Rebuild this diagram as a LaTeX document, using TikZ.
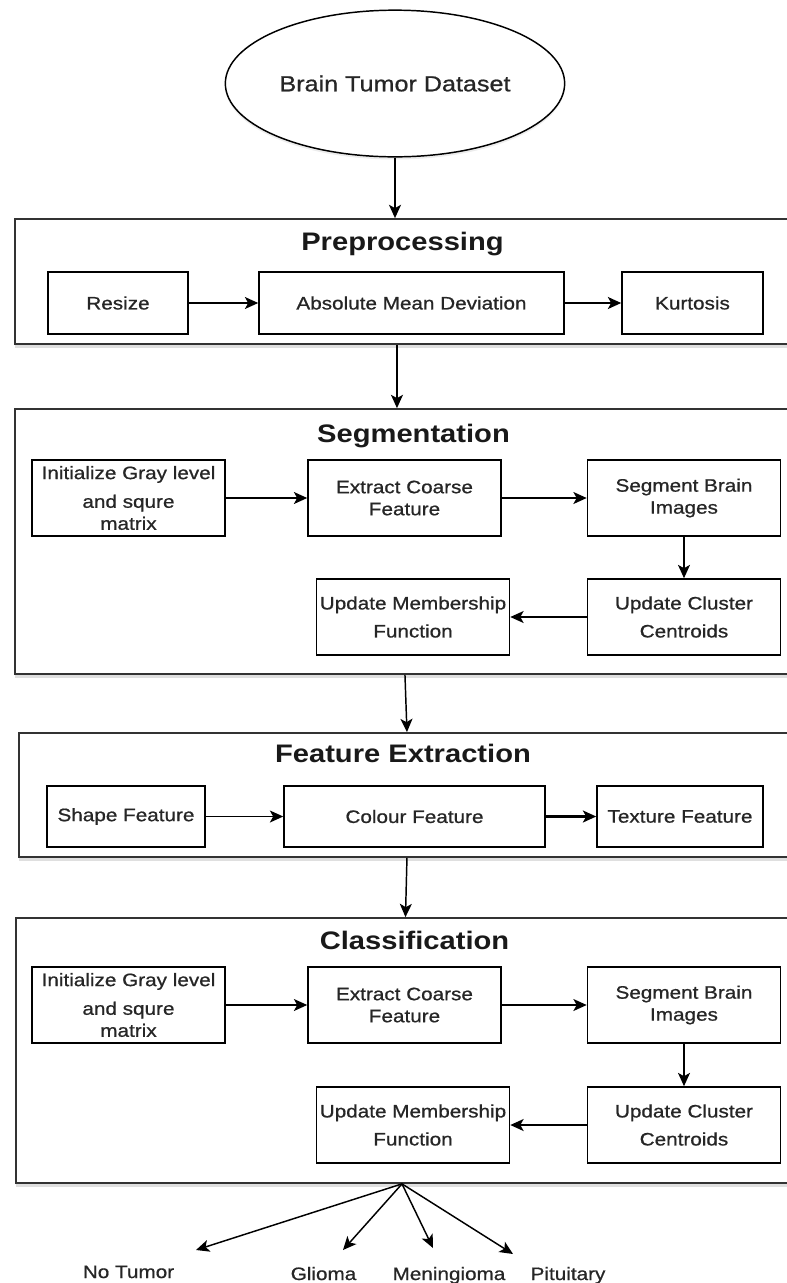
\documentclass[tikz,border=0pt]{standalone}
\usepackage{fontspec}
\setmainfont[FakeStretch=1.15]{Liberation Sans}
\newfontfamily\boxfont[FakeStretch=1.15, FakeBold=0.8]{Liberation Sans}
\usetikzlibrary{shapes.geometric, arrows.meta, shadows}
\tikzstyle{stage} = [rectangle, draw=black!80, line width=1.3pt, fill=white, drop shadow={shadow xshift=0pt, shadow yshift=-3pt, opacity=0.25}]
\tikzstyle{stagetitle} = [anchor=base, inner sep=0pt, font=\fontsize{19}{22}\selectfont\bfseries, text=black!90]
\tikzstyle{process} = [rectangle, draw=black, line width=1.2pt, fill=white, inner sep=1pt, align=center, text=black!85, font=\boxfont\fontsize{13.5}{16.5}\selectfont]
\tikzstyle{wide} = [minimum width=144.75pt, minimum height=57pt]
\tikzstyle{outcome} = [anchor=base, inner sep=0pt, text=black!85, font=\boxfont\fontsize{13.5}{16}\selectfont]
\tikzstyle{arrow} = [line width=1.1pt, -{Stealth[length=10pt, width=9pt, inset=2.5pt]}]

\begin{document}
\begin{tikzpicture}[x=0.75pt, y=-0.75pt]
    \useasboundingbox (0,0) rectangle (787,1283);
    \clip (0,0) rectangle (787,1283);

    % input data
    \node (data) [ellipse, draw=black, line width=1.1pt, fill=white, minimum width=207pt, minimum height=110pt, text=black!85, font=\boxfont\fontsize{16.4}{20}\selectfont, drop shadow={shadow xshift=0pt, shadow yshift=-2pt, opacity=0.15}] at (395,83.5) {Brain Tumor Dataset};

    % preprocessing
    \node (prep) [stage, minimum width=588.75pt, minimum height=93.75pt] at (407.5,281.5) {};
    \node (preptitle) [stagetitle] at (402.5,250) {Preprocessing};
    \node (resize) [process, minimum width=105pt, minimum height=46.5pt] at (118,303) {Resize};
    \node (amd) [process, minimum width=228.75pt, minimum height=46.5pt] at (411.5,303) {Absolute Mean Deviation};
    \node (kurt) [process, minimum width=105.75pt, minimum height=46.5pt] at (692.5,303) {Kurtosis};

    % segmentation
    \node (seg) [stage, minimum width=588.75pt, minimum height=198.75pt] at (407.5,541.5) {};
    \node (segtitle) [stagetitle] at (413.5,442) {Segmentation};
    \node (seginit) [process, wide] at (128.5,498) {Initialize Gray level\\[5pt]and squre\\matrix};
    \node (segext) [process, wide] at (404.5,498) {Extract Coarse\\Feature};
    \node (segimg) [process, wide] at (684,498) {Segment Brain\\Images};
    \node (segclu) [process, wide] at (684,617) {Update Cluster\\[4.5pt]Centroids};
    \node (segmem) [process, wide] at (413,617) {Update Membership\\[4.5pt]Function};

    % feature extraction
    \node (feat) [stage, minimum width=585.75pt, minimum height=93pt] at (409.5,795) {};
    \node (feattitle) [stagetitle] at (403,762) {Feature Extraction};
    \node (shape) [process, minimum width=118.5pt, minimum height=45.75pt] at (126,816.5) {Shape Feature};
    \node (colour) [process, minimum width=195.75pt, minimum height=45.75pt] at (414.5,816.5) {Colour Feature};
    \node (texture) [process, minimum width=124.5pt, minimum height=45.75pt] at (680,816.5) {Texture Feature};

    % classification
    \node (cls) [stage, minimum width=588pt, minimum height=198.75pt] at (408,1050.5) {};
    \node (clstitle) [stagetitle] at (414.5,949) {Classification};
    \node (clsinit) [process, wide] at (128.5,1005) {Initialize Gray level\\[5pt]and squre\\matrix};
    \node (clsext) [process, wide] at (404.5,1005) {Extract Coarse\\Feature};
    \node (clsimg) [process, wide] at (684,1005) {Segment Brain\\Images};
    \node (clsclu) [process, wide] at (684,1125) {Update Cluster\\[4.5pt]Centroids};
    \node (clsmem) [process, wide] at (413,1125) {Update Membership\\[4.5pt]Function};

    % outcomes
    \coordinate (fan) at ([xshift=-4.5pt]cls.south);
    \coordinate (tonone) at (196,1250);
    \coordinate (toglioma) at (343,1250);
    \coordinate (tomening) at (433,1248);
    \coordinate (topituit) at (513,1254);
    \node (none) [outcome] at (128.5,1278) {No Tumor};
    \node (glioma) [outcome] at (323.5,1280) {Glioma};
    \node (mening) [outcome] at (449,1280) {Meningioma};
    \node (pituit) [outcome] at (568,1280) {Pituitary};

    \draw [arrow] (data.south) -- (data.south |- prep.north);
    \draw [arrow] (resize) -- (amd);
    \draw [arrow, line width=1.6pt] (amd) -- (kurt);
    \draw [arrow] ([xshift=-7.9pt]prep.south) -- ([xshift=-7.9pt]seg.north);
    \draw [arrow] (seginit) -- (segext);
    \draw [arrow] (segext) -- (segimg);
    \draw [arrow] (segimg) -- (segclu);
    \draw [arrow] (segclu) -- (segmem);
    \draw [arrow] ([xshift=-1.9pt]seg.south) -- ([xshift=-1.9pt]feat.north);
    \draw [arrow] (shape) -- (colour);
    \draw [arrow, line width=1.6pt] (colour) -- (texture);
    \draw [arrow] ([xshift=-1.9pt]feat.south) -- ([xshift=-1.9pt]cls.north);
    \draw [arrow] (clsinit) -- (clsext);
    \draw [arrow] (clsext) -- (clsimg);
    \draw [arrow] (clsimg) -- (clsclu);
    \draw [arrow] (clsclu) -- (clsmem);
    \draw [arrow] (fan) -- (tonone);
    \draw [arrow] (fan) -- (toglioma);
    \draw [arrow] (fan) -- (tomening);
    \draw [arrow] (fan) -- (topituit);
\end{tikzpicture}
\end{document}
